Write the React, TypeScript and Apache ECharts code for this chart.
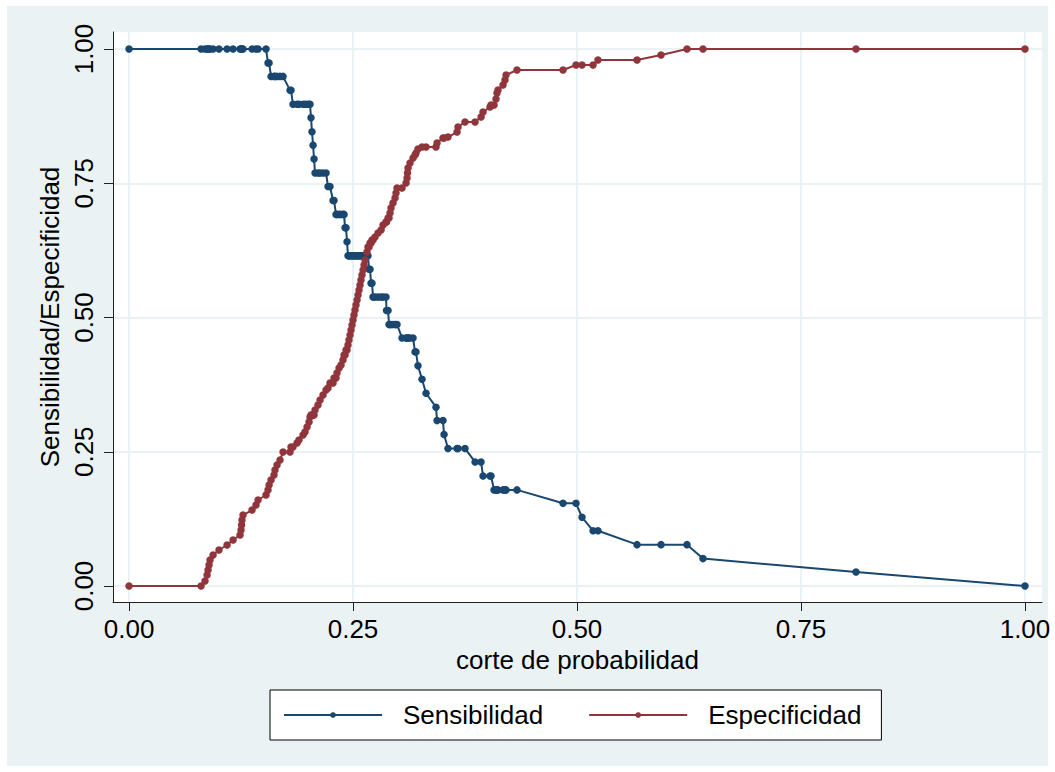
import React, { useEffect, useRef } from "react";
import * as echarts from "echarts";

// Cut-off points (probability) shared by both curves
const cutoff = [
  0, 0.0804, 0.0848, 0.0871, 0.0882, 0.0893, 0.0904, 0.0938, 0.1004, 0.1094,
  0.1161, 0.1239, 0.125, 0.1256, 0.1261, 0.1272, 0.1373, 0.1417, 0.144, 0.1529,
  0.1551, 0.1563, 0.1585, 0.1618, 0.1629, 0.1652, 0.1685, 0.1719, 0.1797, 0.1808,
  0.183, 0.1875, 0.1897, 0.1942, 0.1964, 0.1987, 0.2009, 0.202, 0.2031, 0.2042,
  0.2054, 0.2065, 0.2076, 0.2109, 0.2132, 0.2165, 0.2199, 0.2221, 0.2243, 0.2277,
  0.2288, 0.231, 0.2321, 0.2344, 0.2366, 0.2388, 0.24, 0.2411, 0.2422, 0.2433,
  0.2444, 0.2455, 0.2467, 0.2478, 0.2489, 0.25, 0.2511, 0.2522, 0.2533, 0.2545,
  0.2556, 0.2567, 0.2578, 0.2589, 0.26, 0.2612, 0.2623, 0.2634, 0.2656, 0.2667,
  0.2679, 0.269, 0.2701, 0.2712, 0.2723, 0.2746, 0.2779, 0.2813, 0.2835, 0.2868,
  0.2874, 0.2891, 0.2902, 0.2913, 0.2924, 0.2946, 0.2969, 0.298, 0.2991, 0.3047,
  0.3092, 0.3103, 0.3108, 0.3114, 0.3136, 0.317, 0.3192, 0.3203, 0.3225, 0.327,
  0.3315, 0.3426, 0.3438, 0.3504, 0.3516, 0.356, 0.3661, 0.3672, 0.375, 0.3862,
  0.3929, 0.3951, 0.4029, 0.404, 0.4074, 0.4096, 0.4107, 0.4118, 0.4174, 0.4196,
  0.4208, 0.433, 0.4844, 0.4989, 0.5056, 0.5179, 0.5234, 0.567, 0.5938, 0.6228,
  0.6406, 0.8114, 1,
];

const sensibilidad = [
  1, 1, 1, 1, 1, 1, 1, 1, 1, 1,
  1, 1, 1, 1, 1, 1, 1, 1, 1, 1,
  0.974, 0.974, 0.949, 0.949, 0.949, 0.949, 0.949, 0.949, 0.923, 0.923,
  0.897, 0.897, 0.897, 0.897, 0.897, 0.897, 0.897, 0.897, 0.872, 0.846,
  0.821, 0.795, 0.769, 0.769, 0.769, 0.769, 0.769, 0.744, 0.744, 0.718,
  0.718, 0.692, 0.692, 0.692, 0.692, 0.692, 0.692, 0.667, 0.667, 0.641,
  0.615, 0.615, 0.615, 0.615, 0.615, 0.615, 0.615, 0.615, 0.615, 0.615,
  0.615, 0.615, 0.615, 0.615, 0.615, 0.615, 0.615, 0.615, 0.615, 0.615,
  0.59, 0.59, 0.564, 0.564, 0.538, 0.538, 0.538, 0.538, 0.538, 0.538,
  0.513, 0.513, 0.487, 0.487, 0.487, 0.487, 0.487, 0.487, 0.487, 0.462,
  0.462, 0.462, 0.462, 0.462, 0.462, 0.462, 0.436, 0.436, 0.41, 0.385,
  0.359, 0.333, 0.308, 0.308, 0.282, 0.256, 0.256, 0.256, 0.256, 0.231,
  0.231, 0.205, 0.205, 0.205, 0.179, 0.179, 0.179, 0.179, 0.179, 0.179,
  0.179, 0.179, 0.154, 0.154, 0.128, 0.103, 0.103, 0.077, 0.077, 0.077,
  0.051, 0.026, 0,
];

const especificidad = [
  0, 0, 0.0093, 0.0205, 0.0298, 0.0391, 0.0484, 0.0577, 0.067, 0.0764,
  0.0857, 0.095, 0.1043, 0.1136, 0.1229, 0.1322, 0.1415, 0.1508, 0.1601, 0.1695,
  0.1788, 0.1881, 0.1974, 0.2067, 0.216, 0.2253, 0.2346, 0.2495, 0.2495, 0.2588,
  0.2588, 0.2663, 0.2719, 0.2812, 0.2868, 0.2961, 0.3054, 0.3147, 0.3184, 0.3184,
  0.3184, 0.3184, 0.3277, 0.3371, 0.3464, 0.3557, 0.365, 0.3687, 0.378, 0.378,
  0.3873, 0.3873, 0.3966, 0.406, 0.4115, 0.4209, 0.4302, 0.4302, 0.4395, 0.4395,
  0.4488, 0.4581, 0.4674, 0.4767, 0.486, 0.4953, 0.5047, 0.514, 0.5233, 0.5326,
  0.5419, 0.5512, 0.5605, 0.5698, 0.5791, 0.5885, 0.5978, 0.6071, 0.622, 0.6313,
  0.6313, 0.6387, 0.6387, 0.6443, 0.6443, 0.6499, 0.6574, 0.6629, 0.6723, 0.6778,
  0.6778, 0.6853, 0.6853, 0.6946, 0.7039, 0.7132, 0.7225, 0.7318, 0.7412, 0.7412,
  0.7505, 0.7598, 0.7691, 0.7784, 0.7877, 0.797, 0.8026, 0.8063, 0.8138, 0.8175,
  0.8175, 0.8175, 0.825, 0.8343, 0.8343, 0.8361, 0.8454, 0.8547, 0.8641, 0.8641,
  0.8734, 0.8827, 0.892, 0.8957, 0.8957, 0.9069, 0.918, 0.9236, 0.933, 0.9423,
  0.9516, 0.9609, 0.9609, 0.9702, 0.9702, 0.9702, 0.9795, 0.9795, 0.9888, 1,
  1, 1, 1,
];

const tickValues = [0, 0.25, 0.5, 0.75, 1];
const seriesNames = ["Sensibilidad", "Especificidad"];
const xTitle = "corte de probabilidad";
const yTitle = "Sensibilidad/Especificidad";

const FONT = "'Liberation Sans', Arial, Helvetica, sans-serif";
const BLUE = "#1a476f";
const RED = "#90353b";
const BG = "#eaf2f3";

export default function App() {
  const ref = useRef<HTMLDivElement>(null);

  useEffect(() => {
    if (!ref.current) return;
    const chart = echarts.init(ref.current, undefined, { renderer: "svg" });
    const fmt = (v: number) => v.toFixed(2);
    const axisCommon = {
      type: "value" as const,
      nameLocation: "middle" as const,
      nameTextStyle: { fontFamily: FONT, fontSize: 26, color: "#000" },
      axisLine: { show: true, onZero: false, lineStyle: { color: "#222", width: 1 } },
      axisTick: { show: true, length: 9, customValues: tickValues, lineStyle: { color: "#222", width: 1 } },
      splitLine: { show: true, lineStyle: { color: BG, width: 2 } },
    };
    chart.setOption({
      animation: false,
      backgroundColor: "#fff",
      graphic: [
        {
          type: "rect",
          z: -10,
          silent: true,
          shape: { x: 7, y: 6, width: 1041, height: 760 },
          style: { fill: BG },
        },
      ],
      grid: {
        left: 113,
        top: 32,
        width: 929,
        height: 570,
        show: true,
        backgroundColor: "#fff",
        borderWidth: 0,
      },
      legend: {
        left: 270,
        top: 690,
        orient: "horizontal",
        backgroundColor: "#fff",
        borderColor: "#000",
        borderWidth: 1,
        borderRadius: 0,
        padding: [12, 20, 12, 13],
        itemWidth: 98,
        itemHeight: 7,
        itemGap: 45,
        textStyle: { fontFamily: FONT, fontSize: 26, color: "#000", padding: [0, 0, 0, 16] },
        data: seriesNames,
      },
      xAxis: {
        ...axisCommon,
        min: -0.0179,
        max: 1.019,
        name: xTitle,
        nameGap: 42,
        axisLabel: {
          customValues: tickValues,
          formatter: fmt,
          fontFamily: FONT,
          fontSize: 26,
          color: "#000",
          margin: 14,
        },
      },
      yAxis: {
        ...axisCommon,
        min: -0.0298,
        max: 1.0317,
        name: yTitle,
        nameGap: 38,
        axisLabel: {
          customValues: tickValues,
          formatter: fmt,
          rotate: 90,
          fontFamily: FONT,
          fontSize: 26,
          color: "#000",
          margin: 16,
        },
      },
      series: [
        {
          name: seriesNames[0],
          type: "line",
          data: cutoff.map((x, i) => [x, sensibilidad[i]]),
          symbol: "circle",
          symbolSize: 7.5,
          showAllSymbol: true,
          itemStyle: { color: BLUE },
          lineStyle: { color: BLUE, width: 2 },
        },
        {
          name: seriesNames[1],
          type: "line",
          data: cutoff.map((x, i) => [x, especificidad[i]]),
          symbol: "circle",
          symbolSize: 7.5,
          showAllSymbol: true,
          itemStyle: { color: RED },
          lineStyle: { color: RED, width: 2 },
        },
      ],
    });
    return () => chart.dispose();
  }, []);

  return (
    <div
      ref={ref}
      style={{ position: "absolute", left: 0, top: 0, width: 1055, height: 772 }}
    />
  );
}
